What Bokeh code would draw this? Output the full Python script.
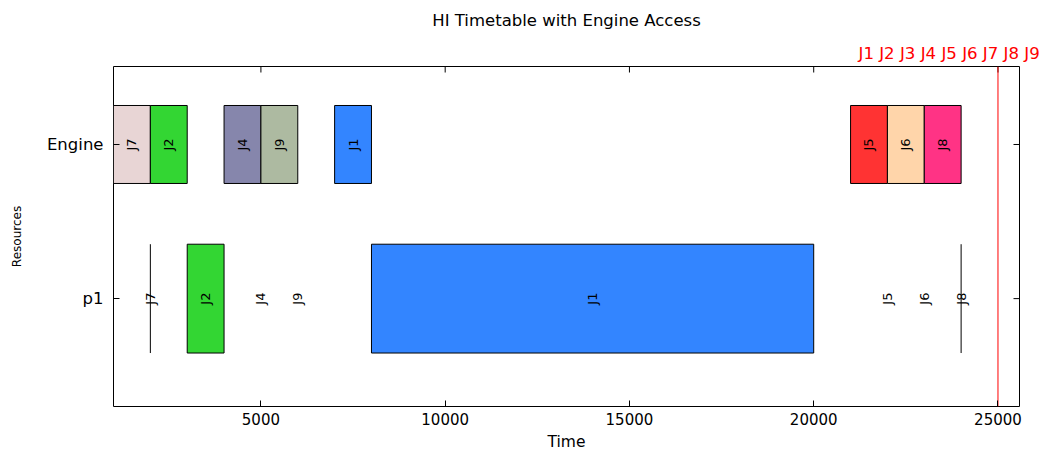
import math
from bokeh.plotting import figure
from bokeh.models import Range1d, FixedTicker, Title, ColumnDataSource
from bokeh.core.properties import value
from bokeh.embed import file_html
from bokeh.resources import INLINE

# ---------------- data ----------------
title = "HI Timetable with Engine Access"
resource_names = ["p1", "Engine"]          # y = 0, 1
all_jobs = ["J1", "J2", "J3", "J4", "J5", "J6", "J7", "J8", "J9"]
job_colors = {
    "J1": "#3385FF", "J2": "#33D633", "J3": "#999999", "J4": "#8686AC",
    "J5": "#FF3333", "J6": "#FFD5AA", "J7": "#E8D5D5", "J8": "#FF3385",
    "J9": "#ADBAA1",
}

engine_jobs = ["J7", "J2", "J4", "J9", "J1", "J5", "J6", "J8"]
engine_start = [1000, 2000, 4000, 5000, 7000, 21000, 22000, 23000]
engine_end = [2000, 3000, 5000, 6000, 8000, 22000, 23000, 24000]

p1_jobs = ["J7", "J2", "J4", "J9", "J1", "J5", "J6", "J8"]
p1_start = [2000, 3000, 5000, 6000, 8000, 22000, 23000, 24000]
p1_end = [2000, 4000, 5000, 6000, 20000, 22000, 23000, 24000]
p1_marked = ["J7", "J8"]   # zero-length entries drawn as a line

deadline = 25000
x_ticks = [5000, 10000, 15000, 20000, 25000]
y_ticks = [0, 1]

# ---------------- style ----------------
FONT = "DejaVu Sans"
X0, X1 = 1000, 25584
Y0, Y1 = -0.70, 1.506
W, H = 1050, 453
BL, BR, BT, BB = 113, 31, 66, 47
ENGINE_HALF = 0.253
P1_HALF = 0.353
TICK = 6

frame_w = W - BL - BR
frame_h = H - BT - BB
ppx = frame_w / (X1 - X0)
ppy = frame_h / (Y1 - Y0)

p = figure(width=W, height=H, output_backend="svg", toolbar_location=None,
           x_range=Range1d(X0, X1), y_range=Range1d(Y0, Y1),
           min_border_left=BL, min_border_right=BR,
           min_border_top=BT, min_border_bottom=BB,
           x_axis_label="Time", y_axis_label="Resources", title=title)
p.xgrid.grid_line_color = None
p.ygrid.grid_line_color = None
p.outline_line_color = "black"
p.outline_line_width = 1
p.background_fill_color = "white"
p.border_fill_color = "white"

# red job list just above the frame (nearest panel), main title above it
p.add_layout(Title(text=" ".join(all_jobs), text_color="#FF0000", text_font=FONT,
                   text_font_size="16.6px", text_font_style="normal",
                   align="left", offset=745, standoff=8), "above")
p.title.text_font = FONT
p.title.text_font_size = "16.5px"
p.title.text_font_style = "normal"
p.title.text_color = "black"
p.title.align = "center"
p.title.standoff = 15

# bottom axis
xa = p.xaxis[0]
xa.ticker = FixedTicker(ticks=x_ticks)
xa.axis_line_color = None
xa.major_tick_in = TICK
xa.major_tick_out = 0
xa.major_tick_line_color = "black"
xa.minor_tick_line_color = None
xa.major_label_text_font = FONT
xa.major_label_text_font_size = "15px"
xa.major_label_text_color = "black"
xa.major_label_standoff = 6
xa.axis_label_text_font = FONT
xa.axis_label_text_font_size = "15.5px"
xa.axis_label_text_font_style = "normal"
xa.axis_label_text_color = "black"
xa.axis_label_standoff = 5

# left axis
ya = p.yaxis[0]
ya.ticker = FixedTicker(ticks=y_ticks)
ya.major_label_overrides = {i: n for i, n in zip(y_ticks, resource_names)}
ya.axis_line_color = None
ya.major_tick_in = TICK
ya.major_tick_out = 0
ya.major_tick_line_color = "black"
ya.minor_tick_line_color = None
ya.major_label_text_font = FONT
ya.major_label_text_font_size = "16.5px"
ya.major_label_text_color = "black"
ya.major_label_standoff = 10
ya.axis_label_text_font = FONT
ya.axis_label_text_font_size = "12px"
ya.axis_label_text_font_style = "normal"
ya.axis_label_text_color = "black"
ya.axis_label_standoff = 20

# mirrored ticks on top and right edges of the frame
p.segment(x0=x_ticks, x1=x_ticks, y0=[Y1] * len(x_ticks),
          y1=[Y1 - TICK / ppy] * len(x_ticks), line_color="black", line_width=1)
p.segment(x0=[X1] * len(y_ticks), x1=[X1 - TICK / ppx] * len(y_ticks),
          y0=y_ticks, y1=y_ticks, line_color="black", line_width=1)

# Engine bars
eng = ColumnDataSource(dict(
    left=engine_start, right=engine_end,
    bottom=[1 - ENGINE_HALF] * len(engine_jobs), top=[1 + ENGINE_HALF] * len(engine_jobs),
    color=[job_colors[j] for j in engine_jobs], job=engine_jobs,
    xm=[(a + b) / 2 for a, b in zip(engine_start, engine_end)], y=[1] * len(engine_jobs)))
p.quad(left="left", right="right", bottom="bottom", top="top", fill_color="color",
       line_color="black", line_width=1, source=eng)
p.text(x="xm", y="y", text="job", source=eng, angle=math.pi / 2,
       text_font=value(FONT), text_font_size="13px", text_align="center",
       text_baseline="middle", text_color="black")

# p1 bars
idx = [i for i in range(len(p1_jobs)) if p1_end[i] > p1_start[i]]
p1b = ColumnDataSource(dict(
    left=[p1_start[i] for i in idx], right=[p1_end[i] for i in idx],
    bottom=[-P1_HALF] * len(idx), top=[P1_HALF] * len(idx),
    color=[job_colors[p1_jobs[i]] for i in idx]))
p.quad(left="left", right="right", bottom="bottom", top="top", fill_color="color",
       line_color="black", line_width=1, source=p1b)
mk = [i for i in range(len(p1_jobs)) if p1_jobs[i] in p1_marked]
p.segment(x0=[p1_start[i] for i in mk], x1=[p1_end[i] for i in mk],
          y0=[-P1_HALF] * len(mk), y1=[P1_HALF] * len(mk),
          line_color="black", line_width=1)
p1t = ColumnDataSource(dict(
    xm=[(a + b) / 2 for a, b in zip(p1_start, p1_end)], y=[0] * len(p1_jobs), job=p1_jobs))
p.text(x="xm", y="y", text="job", source=p1t, angle=math.pi / 2,
       text_font=value(FONT), text_font_size="13px", text_align="center",
       text_baseline="middle", text_color="black")

# deadline
p.segment(x0=[deadline], x1=[deadline], y0=[Y0], y1=[Y1],
          line_color="#FF0000", line_width=1)

open("out.html", "w").write(file_html(p, INLINE))
